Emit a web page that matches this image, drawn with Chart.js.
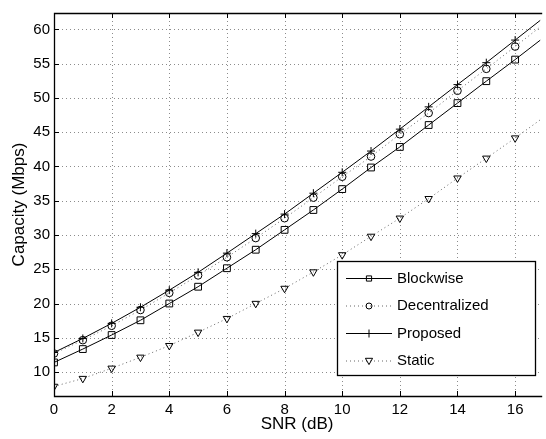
<!DOCTYPE html>
<html>
<head>
<meta charset="utf-8">
<script src="https://cdn.jsdelivr.net/npm/chart.js@4/dist/chart.umd.min.js"></script>
<style>
  html, body { margin: 0; padding: 0; background: #fff; overflow: hidden; }
  #wrap { width: 546px; height: 439px; }
</style>
</head>
<body>
<div id="wrap"><canvas id="graficoCapacidade"></canvas></div>
<script>
  // valores (x = 17 só prolonga as linhas até à borda)
  const snr = [0, 1, 2, 3, 4, 5, 6, 7, 8, 9, 10, 11, 12, 13, 14, 15, 16, 17];
  const blockwise = [11.4, 13.35, 15.4, 17.55, 20.0, 22.45, 25.15, 27.85, 30.75, 33.65, 36.7, 39.85, 42.85, 46.05, 49.25, 52.45, 55.6, 58.85];
  const decentralized = [12.7, 14.65, 16.75, 19.05, 21.55, 24.1, 26.75, 29.55, 32.45, 35.45, 38.5, 41.45, 44.7, 47.8, 51.05, 54.25, 57.5, 60.8];
  const proposed = [12.85, 14.9, 17.1, 19.45, 21.95, 24.55, 27.35, 30.2, 33.05, 36.1, 39.15, 42.25, 45.45, 48.7, 51.95, 55.15, 58.45, 61.75];
  const staticCap = [7.9, 9.05, 10.55, 12.15, 13.85, 15.8, 17.8, 20.0, 22.2, 24.6, 27.1, 29.8, 32.45, 35.3, 38.3, 41.2, 44.15, 47.2];
  const xTicks = [0, 2, 4, 6, 8, 10, 12, 14, 16];
  const yTicks = [10, 15, 20, 25, 30, 35, 40, 45, 50, 55, 60];

  const fonte = { family: '"Liberation Sans", Arial, sans-serif', size: 15 };
  const fonteTitulo = { family: '"Liberation Sans", Arial, sans-serif', size: 17 };

  function serie(label, valores, estilo, raio, tracejado, cor, rotacao) {
    return {
      label: label,
      data: snr.map((x, i) => ({ x: x, y: valores[i] })),
      borderColor: cor,
      borderWidth: 1,
      borderDash: tracejado,
      backgroundColor: 'rgba(0,0,0,0)',
      pointStyle: estilo,
      pointRadius: snr.map(x => x <= 16 ? raio : 0),
      pointRotation: rotacao || 0,
      pointBorderColor: '#000',
      pointBorderWidth: 1,
      pointBackgroundColor: 'rgba(0,0,0,0)',
      tension: 0,
      fill: false
    };
  }

  function desenharMarcador(ctx, tipo, x, y, r) {
    ctx.beginPath();
    if (tipo === 'rect') {
      ctx.rect(x - r, y - r, 2 * r, 2 * r);
    } else if (tipo === 'circle') {
      ctx.arc(x, y, r, 0, Math.PI * 2);
    } else if (tipo === 'cross') {
      ctx.moveTo(x - r, y); ctx.lineTo(x + r, y);
      ctx.moveTo(x, y - r); ctx.lineTo(x, y + r);
    } else if (tipo === 'triangle') {
      ctx.moveTo(x - r, y - r * 0.75);
      ctx.lineTo(x + r, y - r * 0.75);
      ctx.lineTo(x, y + r);
      ctx.closePath();
    }
    ctx.stroke();
  }

  const moldura = {
    id: 'moldura',
    beforeDatasetsDraw(chart) {
      const { ctx, chartArea: a, scales: { x, y } } = chart;
      ctx.save();
      ctx.strokeStyle = '#8c8c8c';
      ctx.lineWidth = 1;
      ctx.setLineDash([1, 3]);
      xTicks.forEach(v => {
        if (v === 0) return;
        const px = Math.round(x.getPixelForValue(v)) + 0.5;
        ctx.beginPath(); ctx.moveTo(px, a.top); ctx.lineTo(px, a.bottom); ctx.stroke();
      });
      yTicks.forEach(v => {
        const py = Math.round(y.getPixelForValue(v)) + 0.5;
        ctx.beginPath(); ctx.moveTo(a.left, py); ctx.lineTo(a.right, py); ctx.stroke();
      });
      ctx.restore();
    },
    afterDraw(chart) {
      const { ctx, chartArea: a, scales: { x, y } } = chart;
      ctx.save();
      ctx.strokeStyle = '#000';
      ctx.lineWidth = 1.3;
      ctx.setLineDash([]);
      // caixa dos eixos
      ctx.beginPath();
      ctx.moveTo(a.right + 2, a.top + 0.5);
      ctx.lineTo(a.left + 0.5, a.top + 0.5);
      ctx.lineTo(a.left + 0.5, a.bottom + 0.5);
      ctx.lineTo(a.right + 2, a.bottom + 0.5);
      ctx.stroke();
      // marcas de escala para dentro
      ctx.lineWidth = 1;
      xTicks.forEach(v => {
        const px = Math.round(x.getPixelForValue(v)) + 0.5;
        ctx.beginPath();
        ctx.moveTo(px, a.bottom); ctx.lineTo(px, a.bottom - 5);
        ctx.moveTo(px, a.top); ctx.lineTo(px, a.top + 5);
        ctx.stroke();
      });
      yTicks.forEach(v => {
        const py = Math.round(y.getPixelForValue(v)) + 0.5;
        ctx.beginPath(); ctx.moveTo(a.left, py); ctx.lineTo(a.left + 5, py); ctx.stroke();
      });

      // legenda dentro do gráfico
      const caixa = { x: 337.5, y: 261.5, w: 198, h: 114 };
      ctx.fillStyle = '#fff';
      ctx.fillRect(caixa.x, caixa.y, caixa.w, caixa.h);
      ctx.lineWidth = 1.3;
      ctx.strokeRect(caixa.x, caixa.y, caixa.w, caixa.h);
      const linhasY = [278.5, 306, 333.5, 361];
      const marcadores = [['rect', 2.6], ['circle', 3], ['cross', 4], ['triangle', 3.6]];
      chart.data.datasets.forEach((ds, i) => {
        const ly = linhasY[i];
        ctx.strokeStyle = ds.borderColor;
        ctx.lineWidth = 1;
        ctx.setLineDash(ds.borderDash || []);
        ctx.beginPath(); ctx.moveTo(346, ly); ctx.lineTo(392, ly); ctx.stroke();
        ctx.setLineDash([]);
        ctx.strokeStyle = '#000';
        ctx.fillStyle = '#fff';
        desenharMarcador(ctx, marcadores[i][0], 369, ly, marcadores[i][1]);
        ctx.fillStyle = '#000';
        ctx.font = '15px "Liberation Sans", Arial, sans-serif';
        ctx.textAlign = 'left';
        ctx.textBaseline = 'middle';
        ctx.fillText(ds.label, 397, ly);
      });
      ctx.restore();
    }
  };

  new Chart(document.getElementById('graficoCapacidade'), {
    type: 'line',
    data: {
      datasets: [
        serie('Blockwise', blockwise, 'rect', 4.8, [], '#000'),
        serie('Decentralized', decentralized, 'circle', 3.8, [1, 3], '#666'),
        serie('Proposed', proposed, 'cross', 4, [], '#000'),
        serie('Static', staticCap, 'triangle', 4.3, [1, 3], '#666', 180)
      ]
    },
    options: {
      responsive: true,
      maintainAspectRatio: false,
      animation: false,
      layout: { padding: { top: 6, right: 0, left: 0, bottom: 0 } },
      plugins: { legend: { display: false }, tooltip: { enabled: false } },
      scales: {
        x: {
          type: 'linear',
          min: 0,
          max: 16.87,
          afterBuildTicks: scale => { scale.ticks = xTicks.map(v => ({ value: v })); },
          afterFit: scale => { scale.height = 43; },
          grid: { display: false, drawTicks: false },
          border: { display: false },
          ticks: { color: '#000', font: fonte, padding: 5, autoSkip: false, maxRotation: 0 },
          title: { display: true, text: 'SNR (dB)', color: '#000', font: fonteTitulo, padding: { top: 0, bottom: 4 } }
        },
        y: {
          type: 'linear',
          min: 6.5,
          max: 62.4,
          afterBuildTicks: scale => { scale.ticks = yTicks.map(v => ({ value: v })); },
          afterFit: scale => { scale.width = 54; },
          grid: { display: false, drawTicks: false },
          border: { display: false },
          ticks: { color: '#000', font: fonte, padding: 4, autoSkip: false },
          title: { display: true, text: 'Capacity (Mbps)', color: '#000', font: fonteTitulo, padding: { top: 9, bottom: 0 } }
        }
      }
    },
    plugins: [moldura]
  });
</script>
</body>
</html>
